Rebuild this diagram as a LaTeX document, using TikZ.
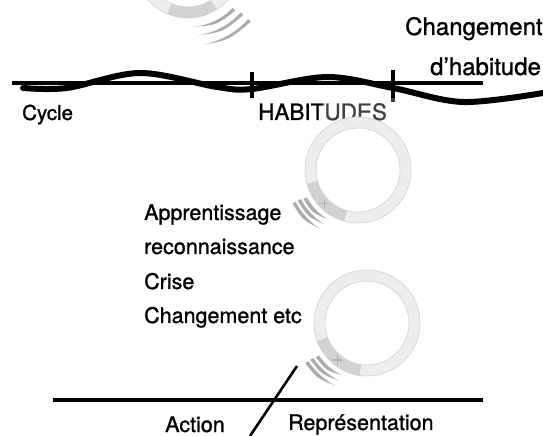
\documentclass[tikz,border=0pt]{standalone}
\usepackage{fontspec}
\setmainfont{TeX Gyre Heros}[FakeBold=1.1]
\usetikzlibrary{calc}
\definecolor{ringc}{HTML}{EEEEEE}
\definecolor{ringl}{HTML}{D6D6D6}
\definecolor{segc}{HTML}{D2D2D2}
\definecolor{plusc}{HTML}{B2B2B2}
\definecolor{swc}{HTML}{ABABAB}
\tikzset{
  lbl/.style={inner sep=0pt, anchor=base west, font=\fontsize{21.5}{24}\selectfont},
  biglbl/.style={lbl, font=\fontsize{24}{26}\selectfont},
  rule/.style={line width=3.2pt, black},
  wave/.style={line width=6pt, black, line cap=round},
}
% ring icon: #1 centre coordinate, #2 start, #3 end angle of the grey segment
\newcommand\ringicon[3]{%
  \fill[ringc, even odd rule] (#1) circle[radius=53] (#1) circle[radius=42];
  \draw[ringl, line width=0.7pt] (#1) circle[radius=53] (#1) circle[radius=42];
  \fill[segc] ($(#1)+(#2:42)$) -- ($(#1)+(#2:53)$) arc[start angle=#2, end angle=#3, radius=53]
     -- ($(#1)+(#3:42)$) arc[start angle=#3, end angle=#2, radius=42] -- cycle;
}
% tapered swoosh: #1 centre, #2 radius, #3 thick end angle, #4 pointed end angle
\newcommand\swoosh[4]{%
  \fill[swc] ($(#1)+(#3:#2)$) arc[start angle=#3, end angle=#4, radius=#2]
     .. controls ($(#1)+({(#3+#4)/2}:{#2+4.6})$) .. ($(#1)+(#3:{#2+3.6})$) -- cycle;
}
\begin{document}
\begin{tikzpicture}[x=1pt, y=1pt]
\useasboundingbox (0,0) rectangle (543,436);
\fill[white] (0,0) rectangle (543,436);

% --- top partial icon
\begin{scope}
\clip (0,0) rectangle (543,436);
\coordinate (c0) at (188,471);
\ringicon{c0}{247}{303}
\swoosh{c0}{62}{316}{275}
\swoosh{c0}{71}{318}{277}
\swoosh{c0}{81}{318}{279}
\end{scope}

% --- time line
\coordinate (t0) at (12,353);
\coordinate (t1) at (483,353);
\draw[rule] (t0) -- (t1);
\draw[wave] plot[smooth, tension=0.55] coordinates {(23,348) (67,348) (140,363) (217,349) (252,347) (327,359) (393,348) (463,334) (543,343)};
\coordinate (k1a) at (252,364); \coordinate (k1b) at (252,338);
\coordinate (k2a) at (393,366); \coordinate (k2b) at (393,334);
\draw[rule] (k1a) -- (k1b);
\draw[rule] (k2a) -- (k2b);

\node[biglbl] (chg) at (405,401) {Changement};
\node[biglbl] (dhab) at (430,361) {d’habitude};
\node[lbl, font=\fontsize{20.5}{24}\selectfont] (cyc) at (22,316) {Cycle};
\node[lbl, font=\fontsize{22.5}{24}\selectfont] (hab) at (258,316) {HABITUDES};

% --- middle icon
\coordinate (c1) at (358,266);
\fill[white, opacity=0.25] (322,314) rectangle (402,338);
\ringicon{c1}{195}{255}
\draw[plusc, line width=1.2pt] ($(c1)+(225:47.5)+(-5,0)$) -- ++(10,0) ($(c1)+(225:47.5)+(0,-5)$) -- ++(0,10);
\swoosh{c1}{58}{208}{238}
\swoosh{c1}{64}{207}{238}
\swoosh{c1}{70}{207}{237}

% --- list
\node[lbl] (l1) at (144,216) {Apprentissage};
\node[lbl] (l2) at (144,182) {reconnaissance};
\node[lbl] (l3) at (144,147) {Crise};
\node[lbl] (l4) at (144,113) {Changement etc};

% --- lower icon
\coordinate (c2) at (367,113);
\ringicon{c2}{200}{262}
\draw[plusc, line width=1.2pt] ($(c2)+(231:47.5)+(-5,0)$) -- ++(10,0) ($(c2)+(231:47.5)+(0,-5)$) -- ++(0,10);
\swoosh{c2}{58}{214}{244}
\swoosh{c2}{64}{213}{244}
\swoosh{c2}{70}{213}{243}

% --- action / representation
\coordinate (b0) at (53,36);
\coordinate (b1) at (483,36);
\draw[rule] (b0) -- (b1);
\coordinate (s0) at (297,70);
\coordinate (s1) at (250,0);
\draw[line width=2.6pt] (s0) -- (s1);
\node[lbl] (act) at (165,4) {Action};
\node[lbl] (rep) at (288,6) {Représentation};
\end{tikzpicture}
\end{document}
